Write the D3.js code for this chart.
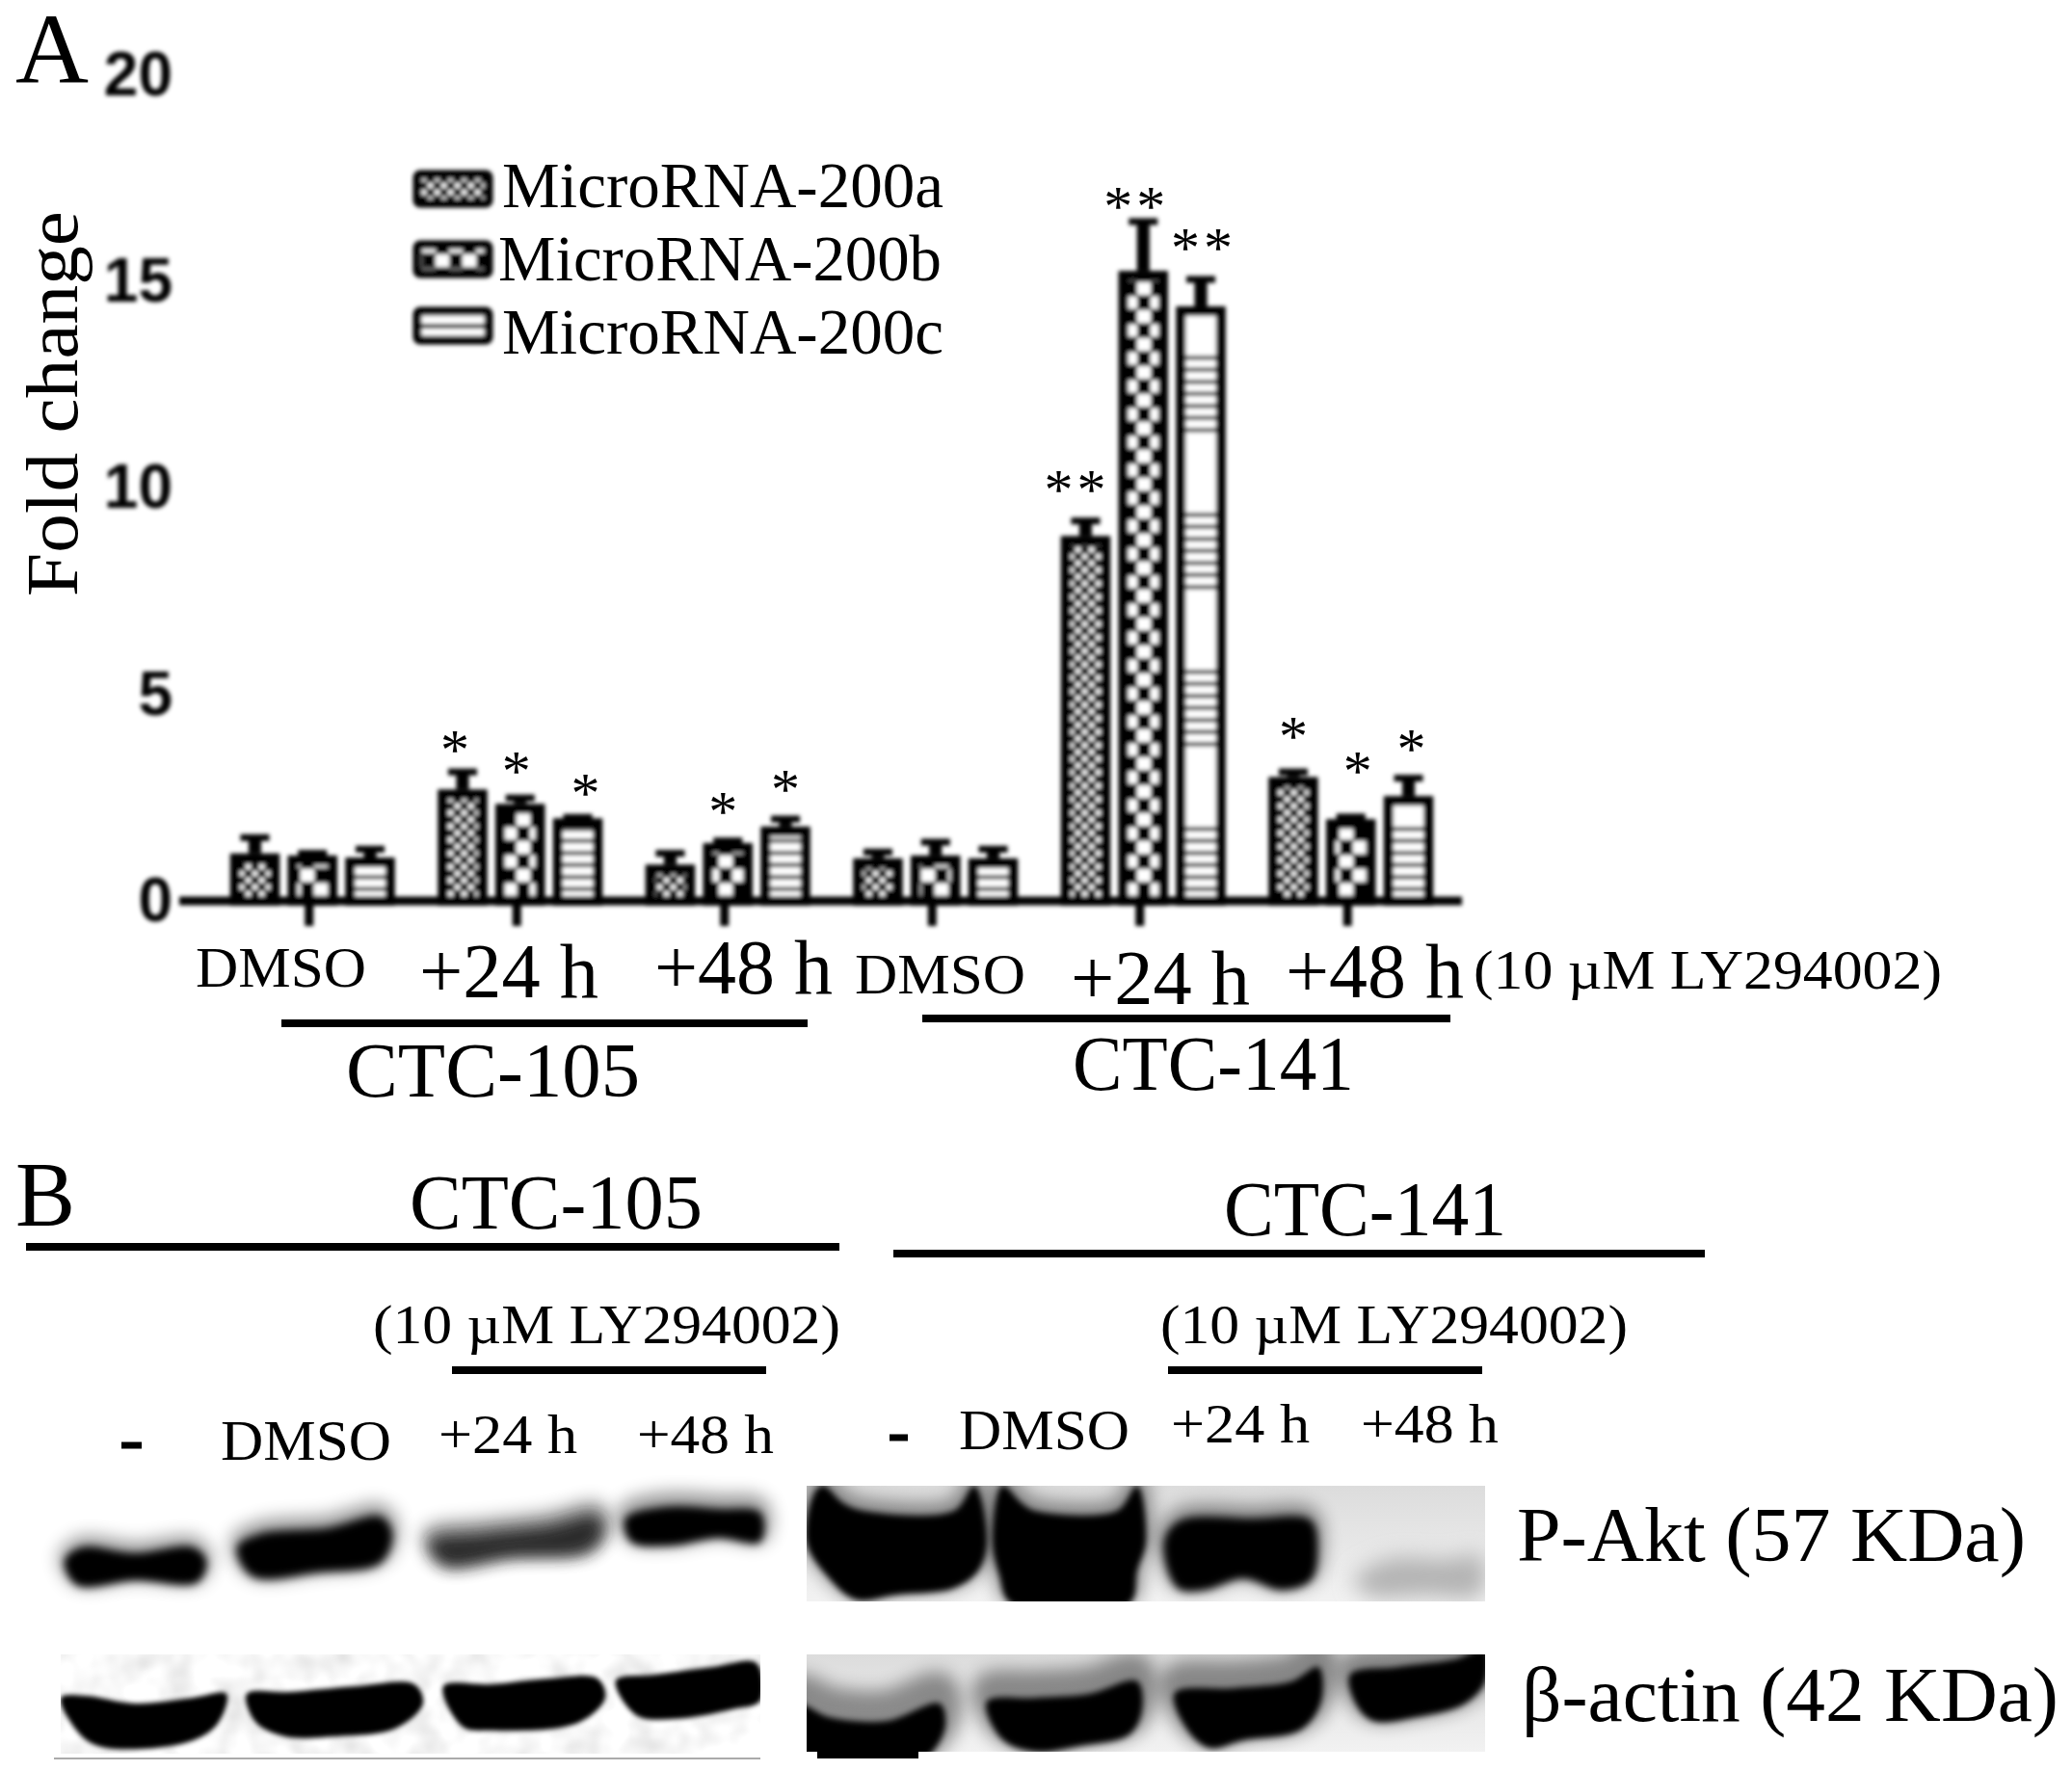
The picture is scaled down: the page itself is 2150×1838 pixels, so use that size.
<!DOCTYPE html>
<html><head><meta charset="utf-8">
<script src="https://cdn.jsdelivr.net/npm/d3@7"></script>
<style>html,body{margin:0;padding:0;background:#fff}svg{display:block}text{font-family:"Liberation Serif",serif;fill:#000}</style>
</head><body><svg id="c" width="2150" height="1838"></svg>
<script>
const groups = ["DMSO-105","+24h-105","+48h-105","DMSO-141","+24h-141","+48h-141"];
const seriesNames = ["MicroRNA-200a","MicroRNA-200b","MicroRNA-200c"];
const values200a = [1.15,2.70,0.88,1.03,8.84,3.00];
const values200b = [1.10,2.35,1.40,1.10,15.26,1.98];
const values200c = [1.05,2.00,1.80,1.03,14.40,2.54];
const errTop200a = [1.58,3.17,1.20,1.23,9.25,3.17];
const errTop200b = [1.20,2.54,1.50,1.47,16.50,2.08];
const errTop200c = [1.30,2.07,2.03,1.30,15.10,3.02];
const stars200a = ["","*","","","**","*"];
const stars200b = ["","*","*","","**","*"];
const stars200c = ["","*","*","","**","*"];
const starLevelA = [0,3.84,0,0,10.14,4.16];
const starLevelB = [0,3.33,2.34,0,17.0,3.33];
const starLevelC = [0,2.78,2.88,0,16.0,3.87];
const starShiftA = [0,-8,0,0,-9,0];
const starShiftB = [0,-4,-5,0,-7,7];
const starShiftC = [0,8,0,0,3,3];
const yTicks = [0,5,10,15,20];
const valueSets = [values200a,values200b,values200c];
const errSets = [errTop200a,errTop200b,errTop200c];
const starSets = [stars200a,stars200b,stars200c];
const starLevels = [starLevelA,starLevelB,starLevelC];
const starShifts = [starShiftA,starShiftB,starShiftC];
const patternIds = ["pa","pb","pc"];
const legendPatternIds = ["pa","pb","pcl"];

// label text, left, right, baseline, font size
const labels = [
 ["A",16,92,86,104],["B",16,78,1272,96],
 ["DMSO",203,380,1024,60],["+24 h",435,621,1035,80],["+48 h",679,864,1031,80],
 ["DMSO",887,1064,1031,60],["+24 h",1111,1297,1042,80],["+48 h",1334,1519,1035,80],
 ["(10 µM LY294002)",1529,2015,1026,58],
 ["CTC-105",359,664,1138,80],["CTC-141",1113,1405,1131,80],
 ["CTC-105",425,729,1275,80],["CTC-141",1270,1563,1282,80],
 ["(10 µM LY294002)",387,872,1394,58],["(10 µM LY294002)",1204,1689,1394,58],
 ["DMSO",229,406,1515,60],["+24 h",455,599,1508,58],["+48 h",661,803,1508,58],
 ["DMSO",995,1172,1504,60],["+24 h",1215,1359,1497,58],["+48 h",1412,1555,1497,58],
 ["P-Akt (57 KDa)",1574,2102,1620,80],["β-actin (42 KDa)",1579,2136,1786,80],
 ["MicroRNA-200a",521,979,215,68],["MicroRNA-200b",517,977,291,68],["MicroRNA-200c",521,979,367,68]
];
// rules: x0,x1,y,thickness
const rules = [[292,838,1062,8],[957,1505,1057,8],[27,871,1294,8],[927,1769,1301,8],
 [469,795,1422,8],[1212,1538,1422,8],[126,147,1500,7],[923,942,1492,7]];

// blot bands: outline, fill
const blotLeft = [
 {o:[[67,1620],[85,1606],[140,1612],[200,1606],[214,1620],[205,1642],[140,1640],[80,1645]],f:"#000",b:4,h:12},
 {o:[[246,1606],[270,1592],[340,1586],[395,1574],[407,1592],[395,1622],[330,1632],[262,1636]],f:"#000",b:5,h:14},
 {o:[[446,1600],[500,1592],[570,1584],[620,1574],[625,1592],[610,1610],[530,1616],[460,1624]],f:"#2a2a2a",b:8,h:16},
 {o:[[649,1576],[690,1564],[745,1566],[789,1570],[789,1600],[745,1596],[695,1604],[655,1600]],f:"#000",b:4,h:16},
 {o:[[63,1762],[90,1760],[140,1768],[200,1762],[235,1758],[225,1790],[195,1808],[110,1814],[85,1802]],f:"#000",b:2.5,h:0},
 {o:[[256,1758],[300,1756],[370,1750],[430,1748],[439,1768],[410,1794],[350,1802],[295,1802],[265,1787]],f:"#000",b:2.5,h:0},
 {o:[[460,1750],[510,1748],[570,1742],[620,1742],[628,1762],[600,1788],[510,1796],[480,1792]],f:"#000",b:2.5,h:0},
 {o:[[639,1744],[680,1738],[740,1730],[785,1726],[789,1765],[760,1774],[700,1784],[660,1780]],f:"#000",b:2.5,h:0}
];
const blotRightTop = [
 {o:[[837,1600],[845,1550],[854,1542],[875,1560],[896,1568],[990,1568],[1011,1542],[1024,1600],[1015,1630],[990,1648],[930,1655],[888,1660],[858,1635]],f:"#000",b:3,h:14},
 {o:[[1030,1600],[1040,1542],[1060,1560],[1074,1568],[1159,1568],[1180,1542],[1189,1600],[1180,1630],[1172,1664],[1049,1664],[1037,1635]],f:"#000",b:3,h:14},
 {o:[[1208,1600],[1225,1578],[1300,1576],[1360,1578],[1367,1610],[1360,1640],[1330,1650],[1290,1638],[1250,1650],[1222,1648]],f:"#000",b:4,h:14},
 {o:[[1405,1640],[1440,1618],[1500,1618],[1537,1615],[1537,1655],[1480,1656],[1420,1656]],f:"#b4b4b4",b:11,h:0}
];
const blotRightBottom = [
 {o:[[830,1770],[860,1782],[920,1786],[975,1768],[981,1790],[970,1815],[950,1830],[830,1830]],f:"#000",b:3,h:34},
 {o:[[1024,1766],[1074,1762],[1130,1758],[1180,1745],[1185,1775],[1172,1800],[1120,1812],[1074,1818],[1040,1805]],f:"#000",b:3,h:30},
 {o:[[1219,1757],[1280,1752],[1340,1745],[1368,1730],[1371,1765],[1350,1795],[1290,1806],[1255,1814],[1232,1795]],f:"#000",b:3,h:30},
 {o:[[1401,1738],[1450,1730],[1510,1722],[1541,1712],[1541,1745],[1520,1768],[1470,1782],[1425,1786],[1408,1770]],f:"#000",b:3,h:22}
];

const svg = d3.select("#c");
const defs = svg.append("defs");
[["b1",1.9],["t",0.6],["tick",2]].forEach(([id,s])=>defs.append("filter").attr("id",id).attr("x","-10%").attr("y","-10%").attr("width","120%").attr("height","120%").append("feGaussianBlur").attr("stdDeviation",s));
function blurId(s){const id="bl"+String(s).replace(".","_");if(defs.select("#"+id).empty())defs.append("filter").attr("id",id).attr("x","-30%").attr("y","-60%").attr("width","160%").attr("height","220%").append("feGaussianBlur").attr("stdDeviation",s);return "url(#"+id+")";}

// patterns
const pa=defs.append("pattern").attr("id","pa").attr("patternUnits","userSpaceOnUse").attr("width",14).attr("height",14).attr("patternTransform","translate(2,0)");
pa.append("rect").attr("width",14).attr("height",14).attr("fill","#000");
[[1,1],[8,8]].forEach(([x,y])=>pa.append("rect").attr("x",x).attr("y",y).attr("width",5.5).attr("height",5.5).attr("fill","#fff"));
const pb=defs.append("pattern").attr("id","pb").attr("patternUnits","userSpaceOnUse").attr("width",28).attr("height",29).attr("patternTransform","translate(4,3)");
pb.append("rect").attr("width",28).attr("height",29).attr("fill","#000");
[[0,0],[14,14.5]].forEach(([x,y])=>pb.append("rect").attr("x",x).attr("y",y).attr("width",14).attr("height",13).attr("fill","#fff"));
const pc=defs.append("pattern").attr("id","pc").attr("patternUnits","userSpaceOnUse").attr("width",40).attr("height",163).attr("patternTransform","translate(0,43)");
pc.append("rect").attr("width",40).attr("height",163).attr("fill","#fff");
d3.range(0,78,12.5).forEach(y=>pc.append("rect").attr("y",y).attr("width",40).attr("height",4.5).attr("fill","#444"));
const pcl=defs.append("pattern").attr("id","pcl").attr("patternUnits","userSpaceOnUse").attr("width",40).attr("height",30).attr("patternTransform","translate(0,323)");
pcl.append("rect").attr("width",40).attr("height",30).attr("fill","#fff");
pcl.append("rect").attr("y",13).attr("width",40).attr("height",5).attr("fill","#222");

// scales
const y=d3.scaleLinear().domain([0,20]).range([935,78]);
const x0=d3.scaleBand().domain(groups).range([213,1506]);
const x1=d3.scaleBand().domain(seriesNames).range([-82,89]).paddingInner(0.14).paddingOuter(0);
const center=g=>x0(g)+x0.bandwidth()/2;

// chart
const chart=svg.append("g").attr("filter","url(#b1)");
const bw=x1.bandwidth();
seriesNames.forEach((s,i)=>{
  const g=chart.append("g");
  g.selectAll("line.stem").data(groups).join("line")
    .attr("x1",d=>center(d)+x1(s)+bw/2).attr("x2",d=>center(d)+x1(s)+bw/2)
    .attr("y1",(d,k)=>y(errSets[i][k])).attr("y2",(d,k)=>y(valueSets[i][k]))
    .attr("stroke","#000").attr("stroke-width",13);
  g.selectAll("line.cap").data(groups).join("line")
    .attr("x1",d=>center(d)+x1(s)+bw/2-15).attr("x2",d=>center(d)+x1(s)+bw/2+15)
    .attr("y1",(d,k)=>y(errSets[i][k])+2).attr("y2",(d,k)=>y(errSets[i][k])+2)
    .attr("stroke","#000").attr("stroke-width",7);
  g.selectAll("rect").data(groups).join("rect")
    .attr("x",d=>center(d)+x1(s)+5).attr("width",bw-10)
    .attr("y",(d,k)=>y(valueSets[i][k])+5).attr("height",(d,k)=>y(0)-y(valueSets[i][k])-5)
    .attr("fill",`url(#${patternIds[i]})`).attr("stroke","#000").attr("stroke-width",10);
});

// axes
const xAxis=chart.append("g").attr("transform","translate(0,935)")
 .call(d3.axisBottom(x0).tickSize(26).tickFormat("").tickSizeOuter(0));
xAxis.select(".domain").attr("d","M186,0H1517").attr("stroke","#000").attr("stroke-width",9);
xAxis.selectAll("line").attr("stroke","#000").attr("stroke-width",9);
const yAxisG=svg.append("g").attr("transform","translate(219,0)")
 .call(d3.axisLeft(y).tickValues(yTicks).tickSize(26).tickPadding(14).tickSizeOuter(0));
yAxisG.select(".domain").attr("stroke","#000").attr("stroke-width",9).attr("filter","url(#t)");
yAxisG.selectAll("line").attr("stroke","#000").attr("stroke-width",8).attr("filter","url(#t)");
yAxisG.selectAll("text").style("font-family",'"Liberation Sans",sans-serif').style("font-weight","bold").style("font-size","64px").attr("filter","url(#tick)");

// stars
const txt=svg.append("g").attr("filter","url(#t)");
seriesNames.forEach((s,i)=>{
  txt.append("g").selectAll("text").data(groups.map((g,k)=>({g,k})).filter(d=>starSets[i][d.k])).join("text")
   .attr("x",d=>center(d.g)+x1(s)+bw/2+starShifts[i][d.k]).attr("y",d=>y(starLevels[i][d.k]))
   .attr("dy",".46em").attr("text-anchor","middle").attr("letter-spacing",d=>starSets[i][d.k].length>1?"4px":0)
   .style("font-size","60px").text(d=>starSets[i][d.k]);
});

// legend swatches
const legendSw=d3.scaleOrdinal().domain(seriesNames).range([181,254,323]);
svg.append("g").attr("filter","url(#b1)").selectAll("rect").data(seriesNames).join("rect")
 .attr("x",433).attr("width",74).attr("y",d=>legendSw(d)).attr("height",30)
 .attr("fill",(d,i)=>`url(#${legendPatternIds[i]})`).attr("stroke","#000").attr("stroke-width",9).attr("rx",3);

// text labels
txt.selectAll("text.l").data(labels).join("text").attr("class","l")
 .attr("x",d=>d[1]).attr("y",d=>d[3]).attr("textLength",d=>d[2]-d[1]).attr("lengthAdjust","spacingAndGlyphs")
 .style("font-size",d=>d[4]+"px").text(d=>d[0]);
txt.append("text").attr("transform","translate(80,619) rotate(-90)").attr("textLength",400).attr("lengthAdjust","spacingAndGlyphs").style("font-size","76px").text("Fold change");
txt.selectAll("rect").data(rules).join("rect").attr("x",d=>d[0]).attr("width",d=>d[1]-d[0]).attr("y",d=>d[2]-d[3]/2).attr("height",d=>d[3]).attr("fill","#000");

// blots
const tf=defs.append("filter").attr("id","mottle").attr("x",0).attr("y",0).attr("width","100%").attr("height","100%");
tf.append("feTurbulence").attr("type","fractalNoise").attr("baseFrequency","0.035").attr("numOctaves",2).attr("seed",4);
tf.append("feColorMatrix").attr("values","0 0 0 0 0  0 0 0 0 0  0 0 0 0 0  1.1 0 0 0 -0.42");
const grad=defs.append("linearGradient").attr("id","bg").attr("x1",0).attr("x2",0).attr("y1",0).attr("y2",1);
grad.append("stop").attr("offset",0).attr("stop-color","#dcdcdc");
grad.append("stop").attr("offset",1).attr("stop-color","#f2f2f2");
[["cR1",837,1542,704,120],["cR2",837,1717,704,101],["cL2",63,1717,726,103]].forEach(([id,a,b,w,h])=>defs.append("clipPath").attr("id",id).append("rect").attr("x",a).attr("y",b).attr("width",w).attr("height",h));
const line=d3.line().curve(d3.curveCatmullRomClosed.alpha(.5));
function drawBands(parent,bands,clip){
  const g=parent.append("g"); if(clip) g.attr("clip-path",`url(#${clip})`);
  bands.filter(d=>d.h).forEach(d=>g.append("path").attr("d",line(d.o)).attr("fill","#000").attr("stroke","#000").attr("stroke-width",d.h).attr("opacity",.4)
     .attr("transform",`translate(0,${-d.h*0.45})`).attr("filter",blurId(9)));
  bands.forEach(d=>g.append("path").attr("d",line(d.o)).attr("fill",d.f).attr("filter",blurId(d.b)));
}
const blots=svg.append("g");
blots.append("rect").attr("x",63).attr("y",1717).attr("width",726).attr("height",103).attr("fill","#000").attr("opacity",.2).attr("filter","url(#mottle)");
blots.append("rect").attr("x",837).attr("y",1542).attr("width",704).attr("height",120).attr("fill","url(#bg)");
blots.append("rect").attr("x",837).attr("y",1717).attr("width",704).attr("height",101).attr("fill","url(#bg)");
drawBands(blots,blotLeft.slice(0,4),null);
drawBands(blots,blotLeft.slice(4),"cL2");
drawBands(blots,blotRightTop,"cR1");
drawBands(blots,blotRightBottom,"cR2");
blots.append("rect").attr("x",848).attr("y",1815).attr("width",105).attr("height",10).attr("fill","#000");
blots.append("rect").attr("x",56).attr("y",1824).attr("width",733).attr("height",2).attr("fill","#aaa");
</script></body></html>
